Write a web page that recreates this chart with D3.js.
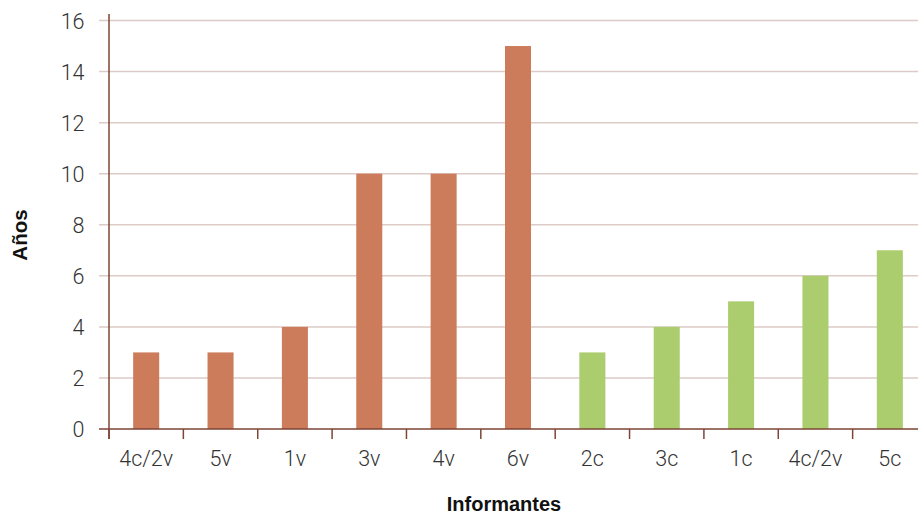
<!DOCTYPE html>
<html>
<head>
<meta charset="utf-8">
<script src="https://cdn.jsdelivr.net/npm/d3@7"></script>
<style>
  html, body { margin: 0; padding: 0; background: #fff; overflow: hidden; }
  svg { display: block; }
</style>
</head>
<body>
<svg id="chart" width="918" height="511"></svg>
<script>
// Years per informant, grouped by type
const categories = ["4c/2v", "5v", "1v", "3v", "4v", "6v", "2c", "3c", "1c", "4c/2v", "5c"];
const years      = [3, 3, 4, 10, 10, 15, 3, 4, 5, 6, 7];
const groups     = ["v", "v", "v", "v", "v", "v", "c", "c", "c", "c", "c"];
const yTicks     = [0, 2, 4, 6, 8, 10, 12, 14, 16];

const colors = { v: "#cc7c5b", c: "#abcd6d" };
const axisColor = "#7d4534";
const gridColor = "#dccbc6";
const textColor = "#333333";
const tickFont = "Roboto, sans-serif";
const titleFont = "'Liberation Sans', Arial, sans-serif";

const svg = d3.select("#chart");

// categories repeat, so the band scale is keyed by position
const x = d3.scaleBand()
  .domain(d3.range(categories.length))
  .range([109, 927])
  .paddingInner(0.65)
  .paddingOuter(0.325);

const y = d3.scaleLinear().domain([0, 16]).range([429, 20.5]);

// horizontal gridlines (the zero line is the x axis)
svg.append("g")
  .selectAll("line")
  .data(yTicks.filter(d => d > 0))
  .join("line")
  .attr("x1", x.range()[0] - 10)
  .attr("x2", 918)
  .attr("y1", d => y(d))
  .attr("y2", d => y(d))
  .attr("stroke", gridColor)
  .attr("stroke-width", 1.5);

// y tick labels
svg.append("g")
  .selectAll("text")
  .data(yTicks)
  .join("text")
  .attr("x", 84.5)
  .attr("y", d => y(d))
  .attr("dy", "0.38em")
  .attr("text-anchor", "end")
  .attr("font-family", tickFont)
  .attr("font-weight", 300)
  .attr("font-size", 21.5)
  .attr("fill", textColor)
  .text(d => d);

// bars
svg.append("g")
  .selectAll("rect")
  .data(years)
  .join("rect")
  .attr("x", (d, i) => x(i))
  .attr("width", x.bandwidth())
  .attr("y", d => y(d))
  .attr("height", d => y(0) - y(d))
  .attr("fill", (d, i) => colors[groups[i]]);

// x axis baseline
svg.append("line")
  .attr("x1", x.range()[0] - 10)
  .attr("x2", 918)
  .attr("y1", y(0))
  .attr("y2", y(0))
  .attr("stroke", axisColor)
  .attr("stroke-width", 1.5);

// category separators hanging below the axis
svg.append("g")
  .selectAll("line")
  .data(d3.range(categories.length))
  .join("line")
  .attr("x1", i => x.range()[0] + i * x.step())
  .attr("x2", i => x.range()[0] + i * x.step())
  .attr("y1", y(0))
  .attr("y2", y(0) + 10)
  .attr("stroke", axisColor)
  .attr("stroke-width", 1.5);

// y axis line
svg.append("line")
  .attr("x1", x.range()[0])
  .attr("x2", x.range()[0])
  .attr("y1", 14)
  .attr("y2", y(0) + 10)
  .attr("stroke", axisColor)
  .attr("stroke-width", 1.5);

// category labels
svg.append("g")
  .selectAll("text")
  .data(categories)
  .join("text")
  .attr("x", (d, i) => x(i) + x.bandwidth() / 2)
  .attr("y", y(0) + 37)
  .attr("text-anchor", "middle")
  .attr("font-family", tickFont)
  .attr("font-weight", 300)
  .attr("font-size", 21.5)
  .attr("fill", textColor)
  .text(d => d);

// axis titles
svg.append("text")
  .attr("transform", "translate(27,235) rotate(-90)")
  .attr("text-anchor", "middle")
  .attr("font-family", titleFont)
  .attr("font-weight", 700)
  .attr("font-size", 20.5)
  .attr("fill", "#111")
  .text("Años");

svg.append("text")
  .attr("x", 504)
  .attr("y", 510.5)
  .attr("text-anchor", "middle")
  .attr("font-family", titleFont)
  .attr("font-weight", 700)
  .attr("font-size", 20)
  .attr("fill", "#111")
  .text("Informantes");
</script>
</body>
</html>
